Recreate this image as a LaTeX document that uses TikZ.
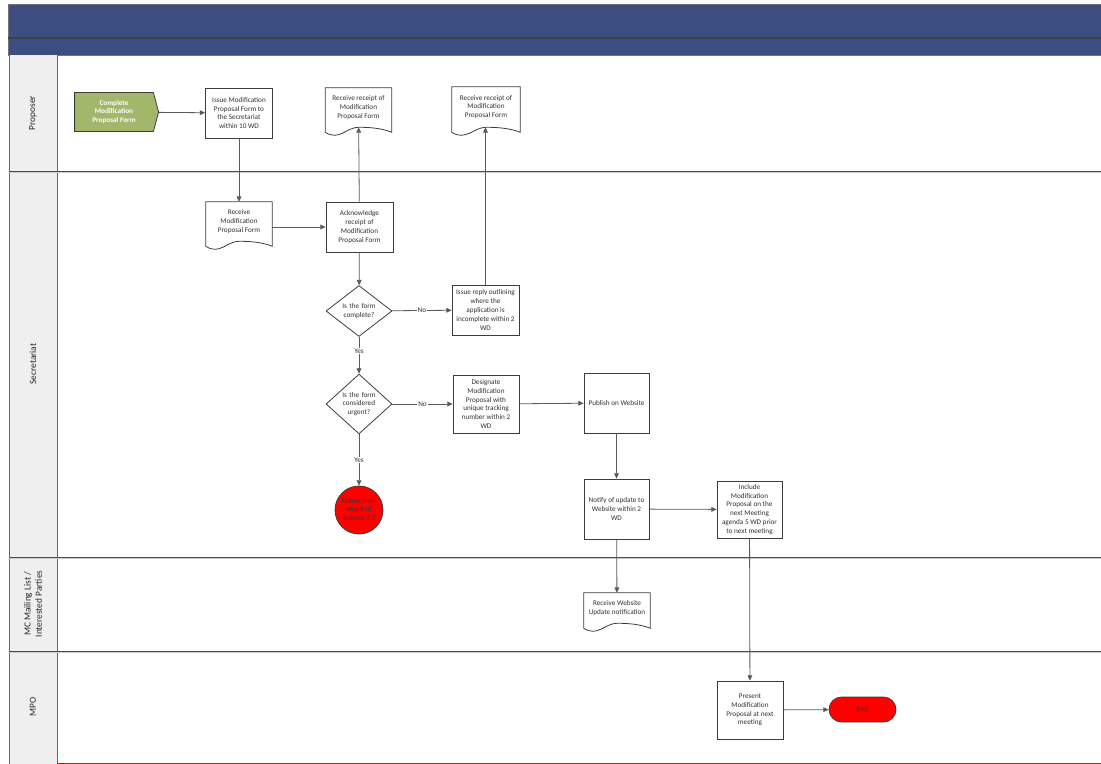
\documentclass[tikz,border=0pt]{standalone}
\usepackage{fontspec}
\setmainfont{Carlito}
\usetikzlibrary{shapes.geometric,shapes.symbols,arrows.meta,calc}
\definecolor{hdr}{RGB}{59,77,129}
\definecolor{lanebg}{RGB}{239,239,239}
\definecolor{greenbox}{RGB}{163,183,108}
\definecolor{boxc}{RGB}{60,60,60}
\definecolor{conc}{RGB}{90,90,90}
\definecolor{txtc}{RGB}{50,50,50}
\newcommand\px{0.75pt}
\newcommand\nf{\fontsize{5.4}{6.6}\selectfont}
\newcommand\drawdoc[1]{%
  \draw[shp] (#1.north west) -- (#1.north east) -- ($(#1.south east)+(0,5)$)
    .. controls ($(#1.south east)+(-10,1)$) and ($(#1.south)+(12,0)$) .. (#1.south)
    .. controls ($(#1.south)+(-12,0)$) and ($(#1.south west)+(14,14)$) .. ($(#1.south west)+(0,5)$) -- cycle;}
\tikzset{
  shp/.style={draw=boxc, line width=0.6pt},
  box/.style={shp, fill=white, rectangle, inner sep=0pt, align=center, font=\nf, text=txtc},
  doc/.style={rectangle, inner sep=0pt, align=center, font=\nf, text=txtc},
  dec/.style={shp, fill=white, diamond, inner sep=0pt, align=center, font=\nf, text=txtc, minimum width=66*\px},
  con/.style={draw=conc, line width=0.6pt, -{Triangle[length=4pt,width=3.6pt]}},
  lbl/.style={fill=white, inner sep=0.6pt, font=\nf, text=txtc},
  lanelbl/.style={rotate=90, align=center, font=\fontsize{7}{8.4}\selectfont, text=black!85},
  laneline/.style={draw=black!70, line width=0.7pt},
}
\begin{document}
\begin{tikzpicture}[x=0.75pt, y=-0.75pt]
\useasboundingbox (0,0) rectangle (1101,764);
% header
\fill[hdr] (8,4) rectangle (1101,55);
\draw[black!55, line width=0.7pt] (8,55) -- (8,4) -- (1101,4);
\draw[black!75, line width=0.8pt] (8,38) -- (1101,38);
\draw[black!55, line width=0.7pt] (8,55) -- (1101,55);
% lane label column
\fill[lanebg] (9,55) rectangle (57,764);
\draw[black!60, line width=0.6pt] (9,55) -- (9,764);
\draw[black!60, line width=0.6pt] (57,55) -- (57,764);
% lane separators
\foreach \yy in {171,557,651} {
  \draw[black!20, line width=0.8pt] (9,\yy+1.5) -- (1101,\yy+1.5);
  \draw[laneline] (9,\yy) -- (1101,\yy);
}
\draw[red, line width=0.8pt] (57,763.3) -- (1101,763.3);
% lane labels
\node[lanelbl] (lp) at (33,113) {Proposer};
\node[lanelbl] (ls) at (33,364) {Secretariat};
\node[lanelbl] (lm) at (33,604) {MC Mailing List /\\Interested Parties};
\node[lanelbl] (lo) at (33,707) {MPO};

% nodes
\node[signal, signal to=east, signal pointer angle=150, draw=boxc, line width=0.6pt, fill=greenbox,
      minimum width=84*\px, minimum height=39*\px, inner sep=0pt, align=center,
      font=\nf\bfseries, text=white] (complete) at (114,112) {Complete\\Modification\\Proposal Form};
\node[box, minimum width=67*\px, minimum height=50*\px] (issue) at (239,113)
  {Issue Modification\\Proposal Form to\\the Secretariat\\within 10 WD};
\node[doc, minimum width=66*\px, minimum height=39*\px] (rr1) at (358.5,107.5)
  {Receive receipt of\\Modification\\Proposal Form};
\node[doc, minimum width=68*\px, minimum height=40*\px] (rr2) at (486,107)
  {Receive receipt of\\Modification\\Proposal Form};
\node[doc, minimum width=66*\px, minimum height=39*\px] (recvmod) at (239,221.5)
  {Receive\\Modification\\Proposal Form};
\node[box, minimum width=67*\px, minimum height=50*\px] (ack) at (359.5,227)
  {Acknowledge\\receipt of\\Modification\\Proposal Form};
\node[dec, minimum height=49*\px, text width=36*\px] (d1) at (359,311)
  {Is the form\\complete?};
\node[box, minimum width=67*\px, minimum height=50*\px] (reply) at (485.5,310)
  {Issue reply outlining\\where the\\application is\\incomplete within 2\\WD};
\node[dec, minimum height=56*\px, text width=36*\px] (d2) at (359,404)
  {Is the form\\considered\\urgent?};
\node[box, minimum width=66*\px, minimum height=58*\px] (desig) at (486,404)
  {Designate\\Modification\\Proposal with\\unique tracking\\number within 2\\WD};
\node[box, minimum width=65*\px, minimum height=60*\px] (publish) at (616.5,403)
  {Publish on Website};
\node[box, minimum width=65*\px, minimum height=60*\px] (notify) at (616.5,509)
  {Notify of update to\\Website within 2\\WD};
\node[box, minimum width=65*\px, minimum height=57*\px] (include) at (749.5,509.5)
  {Include\\Modification\\Proposal on the\\next Meeting\\agenda 5 WD prior\\to next meeting};
\node[shp, circle, fill=red, minimum size=48*\px, inner sep=0pt, align=center, font=\nf, text=black!80] (follow) at (359,510)
  {Follow from\\step 6 of\\process 3.2};
\node[doc, minimum width=66*\px, minimum height=30*\px] (rwu) at (617,608)
  {Receive Website\\Update notification};
\node[box, minimum width=66*\px, minimum height=58*\px] (present) at (750,710)
  {Present\\Modification\\Proposal at next\\meeting};
\node[shp, rectangle, rounded corners=12.5*\px, fill=red, minimum width=67*\px, minimum height=25*\px, inner sep=0pt, font=\nf, text=black!80] (endn) at (862.5,709.5) {End};

% document outlines
\drawdoc{rr1}
\drawdoc{rr2}
\drawdoc{recvmod}
\drawdoc{rwu}

% connectors
\draw[con] (complete) -- (issue);
\draw[con] (issue) -- (recvmod);
\draw[con] (recvmod.east |- ack.west) -- (ack.west);
\draw[con] (ack) -- (rr1);
\draw[con] (ack) -- (d1);
\draw[con] (d1) -- node[lbl] {No} (reply);
\draw[con] (reply.north) -- (reply.north |- rr2.south);
\draw[con] (d1) -- node[lbl, pos=0.38] {Yes} (d2);
\draw[con] (d2) -- node[lbl] {No} (desig);
\draw[con] (desig) -- (publish);
\draw[con] (publish) -- (notify);
\draw[con] (notify) -- (include);
\draw[con] (notify) -- (rwu);
\draw[con] (include) -- (present);
\draw[con] (present) -- (endn);
\draw[con] (d2) -- node[lbl] {Yes} (follow);
\end{tikzpicture}
\end{document}
